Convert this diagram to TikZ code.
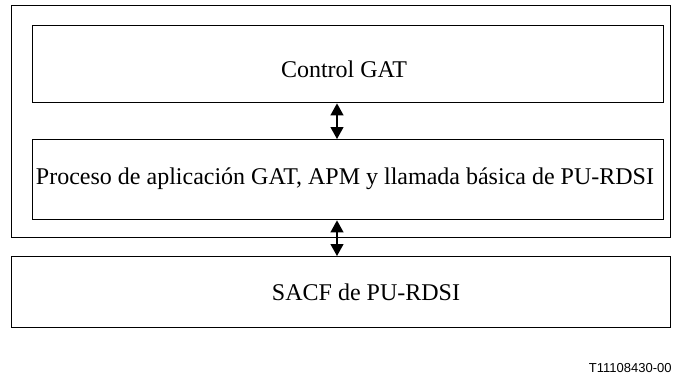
\documentclass[tikz,border=0pt]{standalone}
\usepackage{fontspec}
\setmainfont{Liberation Serif}
\newfontfamily\tagfont{Liberation Sans}
\usetikzlibrary{arrows.meta}
\tikzset{
  blk/.style={draw, line width=0.7pt, inner sep=0pt, anchor=north west},
  lbl/.style={font=\fontsize{12}{14}\selectfont, inner sep=0pt},
  dbl/.style={{Triangle[length=6pt,width=6.5pt]}-{Triangle[length=6pt,width=6.5pt]}, line width=0.6pt}
}
\begin{document}
\begin{tikzpicture}[x=0.5pt, y=-0.5pt]
\useasboundingbox (0,0) rectangle (680,380);
\node[blk, minimum width=329.5pt, minimum height=116pt] (outer) at (11,5) {};
\node[blk, minimum width=315.5pt, minimum height=38.5pt] (ctrl) at (32,25) {};
\node[blk, minimum width=315.5pt, minimum height=40pt] (proc) at (32,139) {};
\node[blk, minimum width=329.5pt, minimum height=35.5pt] (sacf) at (11,256) {};
\node[lbl] (tctrl) at (344,69) {Control GAT};
\node[lbl] (tproc) at (345,179) {Proceso de aplicación GAT, APM y llamada básica de PU-RDSI};
\node[lbl] (tsacf) at (366,292) {SACF de PU-RDSI};
\node[font=\tagfont\fontsize{6.5}{8}\selectfont, inner sep=0pt, anchor=east] (tag) at (672,368) {T11108430-00};
\coordinate (a) at (337,0);
\draw[dbl] (ctrl.south -| a) -- (proc.north -| a);
\draw[dbl] (proc.south -| a) -- (sacf.north -| a);
\end{tikzpicture}
\end{document}
